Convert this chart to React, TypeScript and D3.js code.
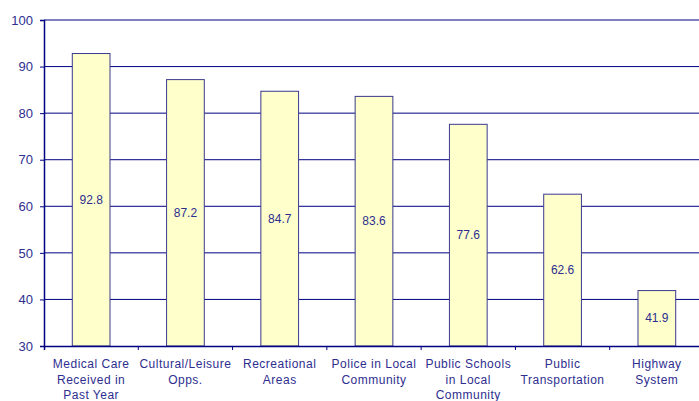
import { axisBottom, axisLeft, scaleBand, scaleLinear, select } from "d3";
import { useEffect, useRef } from "react";

const categories = [
  ["Medical Care", "Received in", "Past Year"],
  ["Cultural/Leisure", "Opps."],
  ["Recreational", "Areas"],
  ["Police in Local", "Community"],
  ["Public Schools", "in Local", "Community"],
  ["Public", "Transportation"],
  ["Highway", "System"],
];
const values = [92.8, 87.2, 84.7, 83.6, 77.6, 62.6, 41.9];
const yTicks = [30, 40, 50, 60, 70, 80, 90, 100];

const navy = "#000080";
const textColor = "#2e2e8f";

const App = () => {
  const width = 699;
  const height = 401;
  const margin = { top: 20, left: 44 };
  const plotW = 660;
  const plotH = 326;

  const keys = categories.map((_, i) => String(i));
  const x = scaleBand().domain(keys).range([0, plotW]).paddingInner(0.6).paddingOuter(0.3);
  const band = scaleBand().domain(keys).range([0, plotW]);
  const y = scaleLinear().domain([30, 100]).range([plotH, 0]);

  const yRef = useRef<SVGGElement>(null);
  const xRef = useRef<SVGGElement>(null);

  useEffect(() => {
    if (yRef.current) {
      const g = select(yRef.current);
      g.call(axisLeft(y).tickValues(yTicks).tickSize(4).tickPadding(7));
      g.select(".domain").attr("stroke", navy).attr("stroke-width", 1.5);
      g.selectAll(".tick line").attr("stroke", navy);
      g.selectAll(".tick text")
        .attr("fill", textColor)
        .style("font-family", "'Liberation Sans', Arial, sans-serif")
        .style("font-size", "13px");
    }
    if (xRef.current) {
      const g = select(xRef.current);
      g.call(
        axisBottom(band)
          .tickSize(4)
          .tickFormat(() => "")
      );
      // ticks sit between bands
      g.selectAll(".tick line").attr("stroke", navy).attr("transform", `translate(${band.bandwidth() / 2},0)`);
      g.select(".domain").attr("stroke", navy).attr("stroke-width", 1.5);
    }
  }, []);

  return (
    <svg
      width={width}
      height={height}
      style={{ position: "absolute", left: 0, top: 0, background: "white" }}
      fontFamily="'Liberation Sans', Arial, sans-serif"
    >
      <g transform={`translate(${margin.left},${margin.top})`}>
        {yTicks.slice(1).map((t) => (
          <line key={t} x1={0} x2={plotW} y1={y(t)} y2={y(t)} stroke={navy} strokeWidth={1} />
        ))}
        {values.map((v, i) => (
          <g key={i}>
            <rect
              x={x(String(i))}
              y={y(v)}
              width={x.bandwidth()}
              height={plotH - y(v)}
              fill="#ffffcc"
              stroke="#3a3a8c"
              strokeWidth={1}
            />
            <text
              x={(x(String(i)) ?? 0) + x.bandwidth() / 2}
              y={(y(v) + plotH) / 2 + 4}
              textAnchor="middle"
              fill={textColor}
              fontSize="12px"
            >
              {v.toFixed(1)}
            </text>
          </g>
        ))}
        <g ref={yRef} />
        <g ref={xRef} transform={`translate(0,${plotH})`} />
        {categories.map((lines, i) => (
          <text
            key={i}
            x={(band(String(i)) ?? 0) + band.bandwidth() / 2}
            y={plotH + 22}
            textAnchor="middle"
            fill={textColor}
            fontSize="12px"
            letterSpacing="0.5px"
          >
            {lines.map((l, j) => (
              <tspan key={j} x={(band(String(i)) ?? 0) + band.bandwidth() / 2} dy={j === 0 ? 0 : 15.5}>
                {l}
              </tspan>
            ))}
          </text>
        ))}
      </g>
    </svg>
  );
};

export default App;
